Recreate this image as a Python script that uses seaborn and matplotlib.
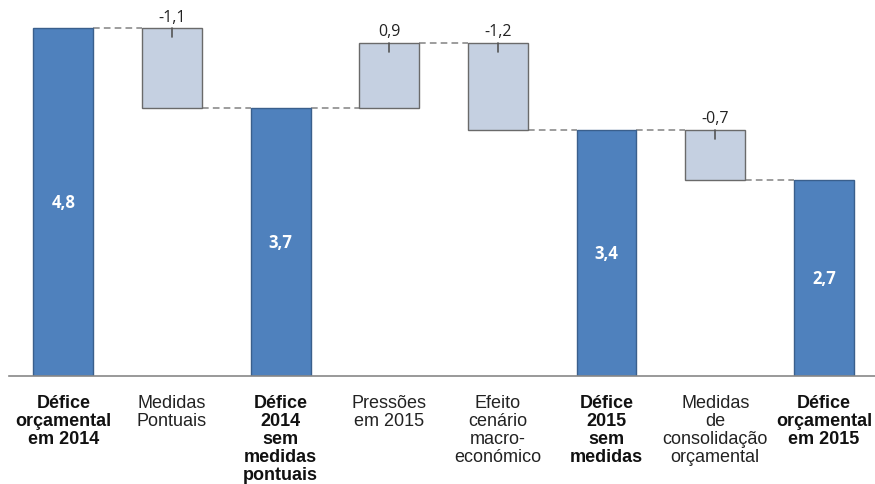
import numpy as np
import pandas as pd
import matplotlib
matplotlib.use("Agg")
import matplotlib.pyplot as plt
import seaborn as sns

categories = ["Défice\norçamental\nem 2014", "Medidas\nPontuais", "Défice\n2014\nsem\nmedidas\npontuais",
              "Pressões\nem 2015", "Efeito\ncenário\nmacro-\neconómico", "Défice\n2015\nsem\nmedidas",
              "Medidas\nde\nconsolidação\norçamental", "Défice\norçamental\nem 2015"]
values = [4.8, -1.1, 3.7, 0.9, -1.2, 3.4, -0.7, 2.7]
kinds = ["total", "change", "total", "change", "change", "total", "change", "total"]

# compute waterfall geometry from data
bottoms, heights, tops = [], [], []
level = 0.0
for v, k in zip(values, kinds):
    if k == "total":
        bottoms.append(0.0); heights.append(v); level = v
    else:
        new = level + v
        bottoms.append(min(level, new)); heights.append(abs(v)); level = new
    tops.append(bottoms[-1] + heights[-1])

df = pd.DataFrame({"cat": categories, "h": heights, "kind": kinds})

sns.set_style("white")
plt.rcParams['font.family'] = ['Liberation Sans', 'DejaVu Sans']

fig = plt.figure(figsize=(8.75, 4.85), dpi=100)
ax = fig.add_axes([9/875, 108/485, 1 - 9/875, 377/485])

sns.barplot(data=df, x="cat", y="h", hue="kind", dodge=False, width=0.55, saturation=1,
            palette={"total": "#4F81BD", "change": "#C5D0E1"},
            edgecolor="#555555", linewidth=1.0, legend=False, ax=ax)

# shift bars to their waterfall bottoms
patches = sorted([p for p in ax.patches if p.get_height() > 0], key=lambda p: p.get_x())
for p, b, h, k in zip(patches, bottoms, heights, kinds):
    p.set_y(b)
    p.set_height(h)
    if k == "total":
        p.set_edgecolor("#3A5F8C")
    else:
        p.set_edgecolor("#6A6A6A")

# connectors
for i in range(len(values) - 1):
    lvl = tops[i] if (kinds[i] == "total" or values[i] > 0) else bottoms[i]
    x0 = patches[i].get_x() + patches[i].get_width()
    x1 = patches[i + 1].get_x()
    ax.plot([x0, x1], [lvl, lvl], ls=(0, (4, 2.5)), color="#8C8C8C", lw=1.2, zorder=0)

def fmt(v):
    return ("%.1f" % v).replace(".", ",")

for i, (v, k) in enumerate(zip(values, kinds)):
    if k == "total":
        ax.text(i, v / 2, fmt(v), ha="center", va="center", color="white",
                fontweight="bold", fontsize=12, family=["Open Sans", "DejaVu Sans"])
    else:
        t = tops[i]
        ax.plot([i, i], [t, t - 0.13], color="#555555", lw=1.2, zorder=5)
        ax.text(i, t + 0.155, fmt(v), ha="center", va="center", color="#222222",
                fontsize=11.5, family=["Open Sans", "DejaVu Sans"])

ax.set_xlim(-0.5, 7.47)
ax.set_ylim(0, 5.2)
ax.set_yticks([])
ax.set_xlabel("")
ax.set_ylabel("")
for s in ["top", "right", "left"]:
    ax.spines[s].set_visible(False)
ax.spines["bottom"].set_color("#888888")
ax.spines["bottom"].set_linewidth(1.2)
ax.tick_params(axis="x", length=0, pad=13)
ax.set_xticks(range(len(categories)))
ax.set_xticklabels(categories, fontsize=13, linespacing=1.08, va="top")
for lbl, k in zip(ax.get_xticklabels(), kinds):
    lbl.set_fontweight("bold" if k == "total" else "normal")
    lbl.set_color("#111111" if k == "total" else "#222222")

fig.savefig("out.png", dpi=100)
